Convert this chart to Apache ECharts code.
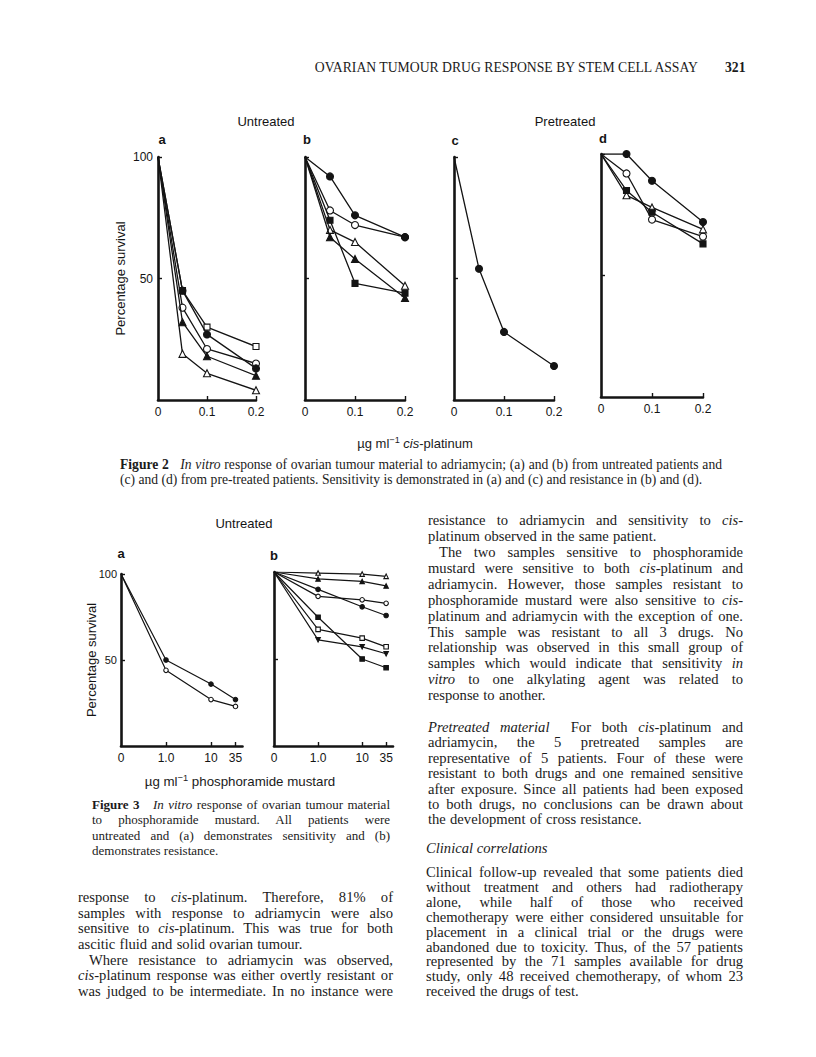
<!DOCTYPE html>
<html>
<head>
<meta charset="utf-8">
<script src="https://cdn.jsdelivr.net/npm/echarts@6/dist/echarts.min.js"></script>
<style>
  html, body { margin: 0; padding: 0; background: #fff; }
  #page { position: relative; width: 816px; height: 1057px; overflow: hidden; }
  #chart { position: absolute; left: 0; top: 0; width: 816px; height: 1057px; }
  .s { position: absolute; font-family: "Liberation Serif", "Times New Roman", serif; color: #1b1b1b; }
  .sans { position: absolute; font-family: "Liberation Sans", Arial, sans-serif; color: #1b1b1b; white-space: nowrap; }
  .blk div { text-align: justify; text-align-last: justify; overflow: visible; }
  .blk div.e { text-align: left; text-align-last: left; }
  .blk div.in { padding-left: 11px; }
  .body div { word-spacing: -1.5px; }
  .body div.e { word-spacing: 0.6px; }
  sup { font-size: 70%; line-height: 0; }
</style>
</head>
<body>
<div id="page">
  <div id="chart"></div>

  <!-- running head -->
  <div class="s" style="right:118px;top:59px;font-size:13.7px;line-height:17px;">OVARIAN TUMOUR DRUG RESPONSE BY STEM CELL ASSAY</div>
  <div class="s" style="left:725px;top:59px;font-size:13.7px;line-height:17px;font-weight:bold;">321</div>

  <!-- figure 2 axis title + caption -->
  <div class="sans" style="left:415px;top:436px;font-size:13px;line-height:16px;transform:translateX(-50%);">µg ml<sup>−1</sup> <i>cis</i>-platinum</div>
  <div class="s blk" style="left:120px;top:456.5px;width:602px;font-size:13.6px;line-height:15.6px;">
    <div><b>Figure 2</b>&nbsp;&nbsp; <i>In vitro</i> response of ovarian tumour material to adriamycin; (a) and (b) from untreated patients and</div>
    <div class="e">(c) and (d) from pre-treated patients. Sensitivity is demonstrated in (a) and (c) and resistance in (b) and (d).</div>
  </div>

  <!-- figure 3 axis title + caption -->
  <div class="sans" style="left:240px;top:774px;font-size:13.3px;line-height:16px;transform:translateX(-50%);">µg ml<sup>−1</sup> phosphoramide mustard</div>
  <div class="s blk" style="left:92px;top:796.8px;width:298px;font-size:13px;line-height:15.4px;">
    <div><b>Figure 3</b>&nbsp;&nbsp; <i>In vitro</i> response of ovarian tumour material</div>
    <div>to phosphoramide mustard. All patients were</div>
    <div>untreated and (a) demonstrates sensitivity and (b)</div>
    <div class="e">demonstrates resistance.</div>
  </div>

  <!-- left column -->
  <div class="s blk body" style="left:78px;top:890.2px;width:315px;font-size:14.6px;line-height:15.6px;">
    <div>response to <i>cis</i>-platinum. Therefore, 81% of</div>
    <div>samples with response to adriamycin were also</div>
    <div>sensitive to <i>cis</i>-platinum. This was true for both</div>
    <div class="e">ascitic fluid and solid ovarian tumour.</div>
    <div class="in">Where resistance to adriamycin was observed,</div>
    <div><i>cis</i>-platinum response was either overtly resistant or</div>
    <div>was judged to be intermediate. In no instance were</div>
  </div>

  <!-- right column -->
  <div class="s blk body" style="left:428px;top:513.2px;width:315px;font-size:14.6px;line-height:15.9px;">
    <div>resistance to adriamycin and sensitivity to <i>cis</i>-</div>
    <div class="e">platinum observed in the same patient.</div>
    <div class="in">The two samples sensitive to phosphoramide</div>
    <div>mustard were sensitive to both <i>cis</i>-platinum and</div>
    <div>adriamycin. However, those samples resistant to</div>
    <div>phosphoramide mustard were also sensitive to <i>cis</i>-</div>
    <div>platinum and adriamycin with the exception of one.</div>
    <div>This sample was resistant to all 3 drugs. No</div>
    <div>relationship was observed in this small group of</div>
    <div>samples which would indicate that sensitivity <i>in</i></div>
    <div><i>vitro</i> to one alkylating agent was related to</div>
    <div class="e">response to another.</div>
  </div>
  <div class="s blk body" style="left:428px;top:720px;width:315px;font-size:14.6px;line-height:15.4px;">
    <div><i>Pretreated material</i>&nbsp; For both <i>cis</i>-platinum and</div>
    <div>adriamycin, the 5 pretreated samples are</div>
    <div>representative of 5 patients. Four of these were</div>
    <div>resistant to both drugs and one remained sensitive</div>
    <div>after exposure. Since all patients had been exposed</div>
    <div>to both drugs, no conclusions can be drawn about</div>
    <div class="e">the development of cross resistance.</div>
  </div>
  <div class="s" style="left:426px;top:841.2px;font-size:14.6px;line-height:15.6px;"><i>Clinical correlations</i></div>
  <div class="s blk body" style="left:426px;top:865px;width:317px;font-size:14.6px;line-height:14.9px;">
    <div>Clinical follow-up revealed that some patients died</div>
    <div>without treatment and others had radiotherapy</div>
    <div>alone, while half of those who received</div>
    <div>chemotherapy were either considered unsuitable for</div>
    <div>placement in a clinical trial or the drugs were</div>
    <div>abandoned due to toxicity. Thus, of the 57 patients</div>
    <div>represented by the 71 samples available for drug</div>
    <div>study, only 48 received chemotherapy, of whom 23</div>
    <div class="e">received the drugs of test.</div>
  </div>
</div>

<script>
// ---- Figure 2: adriamycin, x = µg/ml ----
var doses2 = [0, 0.05, 0.1, 0.2];
var ticks2 = [0, 0.1, 0.2];

// (a) untreated, sensitive
var f2aFilledCircle   = [100, 45, 27, 13];
var f2aOpenSquare     = [100, 45, 30, 22];
var f2aOpenCircle     = [100, 38, 21, 15];
var f2aFilledTriangle = [100, 32, 18, 10];
var f2aOpenTriangle   = [100, 19, 11, 4];

// (b) untreated, resistant
var f2bFilledCircle   = [100, 92, 76, 67];
var f2bOpenCircle     = [100, 78, 72, 67];
var f2bFilledSquare   = [100, 74, 48, 44];
var f2bOpenTriangle   = [100, 70, 65, 47];
var f2bFilledTriangle = [100, 67, 58, 42];

// (c) pretreated, sensitive
var f2cFilledCircle   = [100, 54, 28, 14];

// (d) pretreated, resistant
var f2dFilledCircle   = [100, 100, 89, 72];
var f2dOpenCircle     = [100, 92, 73, 66];
var f2dFilledSquare   = [100, 85, 76, 63];
var f2dOpenTriangle   = [100, 83, 78, 69];

// ---- Figure 3: phosphoramide mustard, x = µg/ml (log spaced) ----
var doses3 = [0, 1, 10, 35];
var doseLabels3 = ['0', '1.0', '10', '35'];

var f3aFilledCircle = [100, 50, 36, 27];
var f3aOpenCircle   = [100, 44, 27, 23];

var f3bOpenTriangle   = [100, 99.4, 98.8, 97.5];
var f3bFilledTriangle = [100, 96, 94.6, 92];
var f3bFilledCircle   = [100, 90, 80, 75];
var f3bOpenCircle     = [100, 86, 84, 82];
var f3bFilledSquare   = [100, 74, 50, 45];
var f3bOpenSquare     = [100, 67, 62, 57];
var f3bFilledDown     = [100, 61, 57, 53];

var survivalTicks = [50, 100];

// log axis origin: dose 0 sits one decade below 1.0
var LOG_ORIGIN = 0.1;
function decades(d) {
  return Math.log10(Math.max(d, LOG_ORIGIN) / LOG_ORIGIN);
}

var SANS = '"Liberation Sans", Arial, sans-serif';
var INK = '#141414';

var MARKS = {
  filledCircle:   { symbol: 'circle',   fill: true },
  openCircle:     { symbol: 'circle',   fill: false },
  filledSquare:   { symbol: 'rect',     fill: true },
  openSquare:     { symbol: 'rect',     fill: false },
  filledTriangle: { symbol: 'triangle', fill: true },
  openTriangle:   { symbol: 'triangle', fill: false },
  filledDown:     { symbol: 'triangle', fill: true, rotate: 180 }
};

function line(g, xs, ys, kind, size, lw) {
  var m = MARKS[kind];
  return {
    type: 'line', xAxisIndex: g, yAxisIndex: g, silent: true,
    symbol: m.symbol, symbolSize: size, symbolRotate: m.rotate || 0,
    data: xs.map(function (x, i) {
      return i === 0 ? { value: [x, ys[i]], symbol: 'none' } : [x, ys[i]];
    }),
    lineStyle: { color: INK, width: lw },
    itemStyle: { color: m.fill ? INK : '#fff', borderColor: INK, borderWidth: 1.1 },
    z: m.fill ? 3 : 2
  };
}

function yAx(g, labelled, nameGap, fontSize, margin) {
  return {
    gridIndex: g, type: 'value', min: 0, max: 100,
    name: labelled ? 'Percentage survival' : '', nameLocation: 'middle', nameGap: nameGap,
    nameMoveOverlap: false,
    nameTextStyle: { fontFamily: SANS, fontSize: 13, color: INK },
    axisLine: { show: true, lineStyle: { color: INK, width: 2.6 } },
    axisTick: { show: true, inside: true, length: 4, customValues: survivalTicks, lineStyle: { color: INK, width: 1.4 } },
    axisLabel: { show: labelled, customValues: survivalTicks, margin: margin || 5, fontFamily: SANS, fontSize: fontSize || 12, color: INK },
    splitLine: { show: false }
  };
}

function xAx2(g) {
  return {
    gridIndex: g, type: 'value', min: 0, max: 0.2,
    axisLine: { show: true, onZero: false, lineStyle: { color: INK, width: 2.6 } },
    axisTick: { show: true, inside: true, length: 4, customValues: [0.1, 0.2], lineStyle: { color: INK, width: 1.4 } },
    axisLabel: {
      customValues: ticks2, margin: 6, fontFamily: SANS, fontSize: 12, color: INK,
      formatter: function (v) { return v === 0 ? '0' : v.toFixed(1); }
    },
    splitLine: { show: false }
  };
}

function xAx3(g) {
  var pos = doses3.map(decades);
  return {
    gridIndex: g, type: 'value', min: 0, max: 2.7,
    axisLine: { show: true, onZero: false, lineStyle: { color: INK, width: 2.6 } },
    axisTick: { show: true, inside: true, length: 4, customValues: pos.slice(1), lineStyle: { color: INK, width: 1.4 } },
    axisLabel: {
      customValues: pos, margin: 6, fontFamily: SANS, fontSize: 12, color: INK,
      formatter: function (v) {
        for (var i = 0; i < pos.length; i++) if (Math.abs(pos[i] - v) < 1e-6) return doseLabels3[i];
        return '';
      }
    },
    splitLine: { show: false }
  };
}

function label(text, x, y, size, bold) {
  return {
    type: 'text', x: x, y: y, silent: true,
    style: { text: text, font: (bold ? 'bold ' : '') + size + 'px ' + SANS, fill: INK, align: 'center', verticalAlign: 'middle' }
  };
}

var x3 = doses3.map(decades);
var S2 = 7, S3 = 4.5;

var option = {
  animation: false,
  backgroundColor: 'transparent',
  grid: [
    { left: 158, top: 157, width: 98,  height: 243, outerBoundsMode: 'none' },
    { left: 305, top: 157, width: 100, height: 243, outerBoundsMode: 'none' },
    { left: 454, top: 157, width: 100, height: 243, outerBoundsMode: 'none' },
    { left: 601, top: 154, width: 102, height: 243, outerBoundsMode: 'none' },
    { left: 121, top: 574, width: 121.5, height: 172, outerBoundsMode: 'none' },
    { left: 274, top: 572, width: 119, height: 174, outerBoundsMode: 'none' }
  ],
  xAxis: [xAx2(0), xAx2(1), xAx2(2), xAx2(3), xAx3(4), xAx3(5)],
  yAxis: [
    yAx(0, true, 31), yAx(1, false, 0), yAx(2, false, 0), yAx(3, false, 0),
    yAx(4, true, 23, 11, 4), yAx(5, false, 0)
  ],
  graphic: [
    label('Untreated', 266, 121, 13, false),
    label('Pretreated', 565, 121, 13, false),
    label('a', 162, 139, 13, true),
    label('b', 307, 139, 13, true),
    label('c', 455, 140, 13, true),
    label('d', 603, 138, 13, true),
    label('Untreated', 244, 523, 13, false),
    label('a', 121, 553, 13, true),
    label('b', 274, 555, 13, true)
  ],
  series: [
    line(0, doses2, f2aOpenSquare, 'openSquare', 6, 1.3),
    line(0, doses2, f2aFilledCircle, 'filledCircle', S2, 1.3),
    line(0, doses2, f2aOpenCircle, 'openCircle', S2, 1.3),
    line(0, doses2, f2aFilledTriangle, 'filledTriangle', S2, 1.3),
    line(0, doses2, f2aOpenTriangle, 'openTriangle', S2, 1.3),

    line(1, doses2, f2bFilledCircle, 'filledCircle', S2, 1.3),
    line(1, doses2, f2bOpenCircle, 'openCircle', S2, 1.3),
    line(1, doses2, f2bFilledSquare, 'filledSquare', 6, 1.3),
    line(1, doses2, f2bOpenTriangle, 'openTriangle', S2, 1.3),
    line(1, doses2, f2bFilledTriangle, 'filledTriangle', S2, 1.3),

    line(2, doses2, f2cFilledCircle, 'filledCircle', S2, 1.3),

    line(3, doses2, f2dFilledCircle, 'filledCircle', S2, 1.3),
    line(3, doses2, f2dOpenCircle, 'openCircle', S2, 1.3),
    line(3, doses2, f2dFilledSquare, 'filledSquare', 6, 1.3),
    line(3, doses2, f2dOpenTriangle, 'openTriangle', S2, 1.3),

    line(4, x3, f3aFilledCircle, 'filledCircle', S3, 1.2),
    line(4, x3, f3aOpenCircle, 'openCircle', S3, 1.2),

    line(5, x3, f3bOpenTriangle, 'openTriangle', S3, 1.2),
    line(5, x3, f3bFilledTriangle, 'filledTriangle', S3, 1.2),
    line(5, x3, f3bFilledCircle, 'filledCircle', S3, 1.2),
    line(5, x3, f3bOpenCircle, 'openCircle', S3, 1.2),
    line(5, x3, f3bFilledSquare, 'filledSquare', S3, 1.2),
    line(5, x3, f3bOpenSquare, 'openSquare', S3, 1.2),
    line(5, x3, f3bFilledDown, 'filledDown', S3, 1.2)
  ]
};

var chart = echarts.init(document.getElementById('chart'), null, { renderer: 'svg' });
chart.setOption(option);
</script>
</body>
</html>
